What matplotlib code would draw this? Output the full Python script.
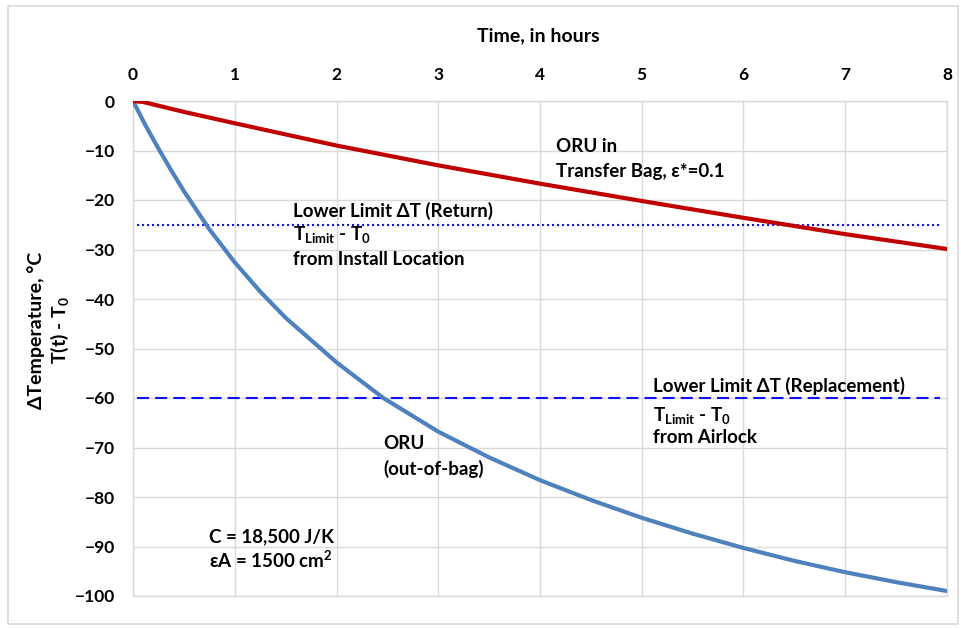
import matplotlib
matplotlib.use("Agg")
import matplotlib.pyplot as plt
from matplotlib.patches import Rectangle

plt.rcParams['font.family'] = ['Lato', 'DejaVu Sans']
plt.rcParams['font.weight'] = 'bold'
plt.rcParams['mathtext.fontset'] = 'custom'
plt.rcParams['mathtext.rm'] = 'Lato:bold'
plt.rcParams['mathtext.bf'] = 'Lato:bold'
plt.rcParams['mathtext.it'] = 'Lato:bold'

# ---- data ----
t_oru = [0, 0.125, 0.25, 0.375, 0.5, 0.75, 1.0, 1.25, 1.5, 2.0, 2.46, 3.0, 3.5, 4.0, 4.5,
         5.0, 5.5, 6.0, 6.5, 7.0, 7.5, 8.0]
dT_oru = [0, -5.0, -9.6, -14.0, -18.2, -25.9, -32.6, -38.5, -43.8, -52.8, -60.0, -66.8,
          -72.0, -76.6, -80.6, -84.2, -87.4, -90.3, -92.9, -95.2, -97.2, -99.0]

t_bag = [0, 0.1, 0.5, 1.0, 2.0, 3.0, 4.0, 5.0, 6.0, 7.0, 8.0]
dT_bag = [0, -0.2, -2.2, -4.5, -9.0, -13.0, -16.7, -20.2, -23.6, -26.9, -29.9]

limit_return = -25
limit_replace = -60
limit_t = [0.04, 7.93]

x_ticks = [0, 1, 2, 3, 4, 5, 6, 7, 8]
y_ticks = [0, -10, -20, -30, -40, -50, -60, -70, -80, -90, -100]

# ---- figure ----
W, H = 961, 628
fig = plt.figure(figsize=(W / 100, H / 100), dpi=100)
fig.patches.append(Rectangle((8 / W, 4 / H), 950 / W, 618 / H, transform=fig.transFigure,
                             fill=False, edgecolor='#d9d9d9', linewidth=1.2))

ax = fig.add_axes([133 / W, 1 - 596 / H, (947 - 133) / W, (596 - 101) / H])
ax.set_xlim(0, 8)
ax.set_ylim(-100, 0)
ax.set_xticks(x_ticks)
ax.set_yticks(y_ticks)
ax.xaxis.tick_top()
ax.tick_params(axis='x', length=0, pad=13, labelsize=12.5)
ax.tick_params(axis='y', length=0, pad=13, labelsize=12.5)
for lab in ax.get_xticklabels() + ax.get_yticklabels():
    lab.set_fontweight('bold')
ax.grid(True, color='#d9d9d9', linewidth=1)
ax.set_axisbelow(True)
for s in ax.spines.values():
    s.set_color('#d9d9d9')
    s.set_linewidth(1)

ax.plot(t_oru, dT_oru, color='#4f81bd', linewidth=3, solid_capstyle='round',
        solid_joinstyle='round', zorder=3)
ax.plot(t_bag, dT_bag, color='#c00000', linewidth=3, solid_capstyle='round',
        solid_joinstyle='round', zorder=3)
ax.plot(limit_t, [limit_return, limit_return], color='#1010ff', linewidth=1.5,
        linestyle=(0, (1, 1.4)), zorder=2)
ax.plot(limit_t, [limit_replace, limit_replace], color='#1010ff', linewidth=1.5,
        linestyle=(0, (5.8, 2.9)), zorder=2)

fig.text(538 / W, 1 - 36 / H, 'Time, in hours', ha='center', va='center',
         fontsize=14, fontweight='bold')
fig.text(49 / W, 1 - 330 / H, 'ΔTemperature, °C\nT(t) - T$_{\\mathbf{0}}$', rotation=90,
         ha='center', va='center', multialignment='center', fontsize=14,
         fontweight='bold', linespacing=1.2)


def px2data(px, py):
    return (px - 133) / 101.75, -(py - 101) / 4.95


def label(px, py, s, **kw):
    x, y = px2data(px, py)
    ax.text(x, y, s, ha='left', va='baseline', fontsize=13.5, fontweight='bold', zorder=4, **kw)


label(556, 152, 'ORU in')
label(556, 177, 'Transfer Bag, ε*=0.1')
label(293, 217, 'Lower Limit ΔT (Return)')
label(293, 240, 'T$_{\\mathbf{Limit}}$ - T$_{\\mathbf{0}}$')
label(293, 265, 'from Install Location')
label(653, 392, 'Lower Limit ΔT (Replacement)')
label(653, 421, 'T$_{\\mathbf{Limit}}$ - T$_{\\mathbf{0}}$')
label(653, 443, 'from Airlock')
label(383, 449, 'ORU')
label(383, 475, '(out-of-bag)')
label(209, 542, 'C = 18,500 J/K')
label(209, 568, 'εA = 1500 cm$^{\\mathbf{2}}$')

fig.savefig('out.png', dpi=100)
